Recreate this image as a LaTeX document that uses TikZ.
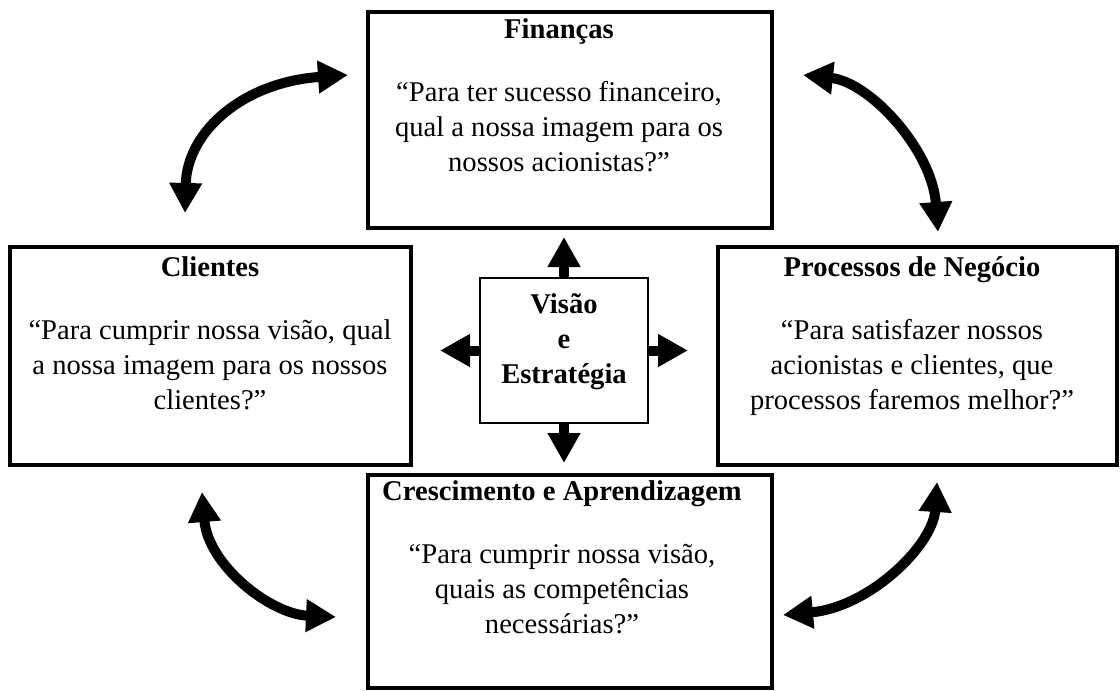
\documentclass[tikz,border=0pt]{standalone}
\usepackage{fontspec}
\setmainfont{Liberation Serif}
\usetikzlibrary{arrows.meta}
\newcommand{\bxt}[1]{\begin{tabular}[t]{@{}c@{}}#1\end{tabular}}
\begin{document}
\begin{tikzpicture}[x=1pt,y=-1pt,
  bigbox/.style={draw, line width=4.5pt, inner sep=0pt},
  ctrbox/.style={draw, line width=2.2pt, inner sep=0pt, minimum width=168pt, minimum height=145pt},
  label/.style={inner sep=0pt, anchor=base, font=\fontsize{28.6}{35}\selectfont},
  ctrarrow/.style={line width=10pt, -{Triangle[length=30pt,width=31pt]}},
  curvyarrow/.style={line width=10pt, {Triangle[length=30pt,width=31pt]}-{Triangle[length=30pt,width=31pt]}}
]
\useasboundingbox (0,0) rectangle (1120,691);
\fill[white] (0,0) rectangle (1120,691);

% boxes
\node[bigbox, minimum width=404pt, minimum height=216pt] (fin) at (570,120) {};
\node[bigbox, minimum width=401pt, minimum height=218pt] (cli) at (210.5,356) {};
\node[bigbox, minimum width=399pt, minimum height=218pt] (pro) at (917.5,356) {};
\node[bigbox, minimum width=404pt, minimum height=213pt] (cre) at (570,581.5) {};
\node[ctrbox] (ctr) at (564,350.5) {};

% texts
\node[label] (fintxt) at (559,38) {\bxt{\textbf{Finanças}\\[28pt]“Para ter sucesso financeiro,\\qual a nossa imagem para os\\nossos acionistas?”}};
\node[label] (clitxt) at (210,276) {\bxt{\textbf{Clientes}\\[28pt]“Para cumprir nossa visão, qual\\a nossa imagem para os nossos\\clientes?”}};
\node[label] (protxt) at (912,276) {\bxt{\textbf{Processos de Negócio}\\[28pt]“Para satisfazer nossos\\acionistas e clientes, que\\processos faremos melhor?”}};
\node[label] (cretxt) at (562,500) {\bxt{\textbf{Crescimento e Aprendizagem}\\[28pt]“Para cumprir nossa visão,\\quais as competências\\necessárias?”}};
\node[label] (ctrtxt) at (564,313) {\bxt{\textbf{Visão}\\\textbf{e}\\\textbf{Estratégia}}};

% centre arrows
\coordinate (up) at (564,237);
\coordinate (dn) at (564,463);
\coordinate (lf) at (440,350.5);
\coordinate (rt) at (688,350.5);
\draw[ctrarrow] (ctr.north) -- (up);
\draw[ctrarrow] (ctr.south) -- (dn);
\draw[ctrarrow] (ctr.west) -- (lf);
\draw[ctrarrow] (ctr.east) -- (rt);

% curved arrows
\coordinate (tlA) at (185,213);
\coordinate (tlB) at (348,75);
\coordinate (trA) at (803,75);
\coordinate (trB) at (938,232);
\coordinate (blA) at (202,492);
\coordinate (blB) at (336,617);
\coordinate (brA) at (937,482);
\coordinate (brB) at (783,615);
\draw[curvyarrow] (tlA) .. controls (187,130) and (245,82) .. (tlB);
\draw[curvyarrow] (trA) .. controls (870,82) and (932,150) .. (trB);
\draw[curvyarrow] (blA) .. controls (208,565) and (270,614) .. (blB);
\draw[curvyarrow] (brA) .. controls (933,545) and (870,607) .. (brB);
\end{tikzpicture}
\end{document}
